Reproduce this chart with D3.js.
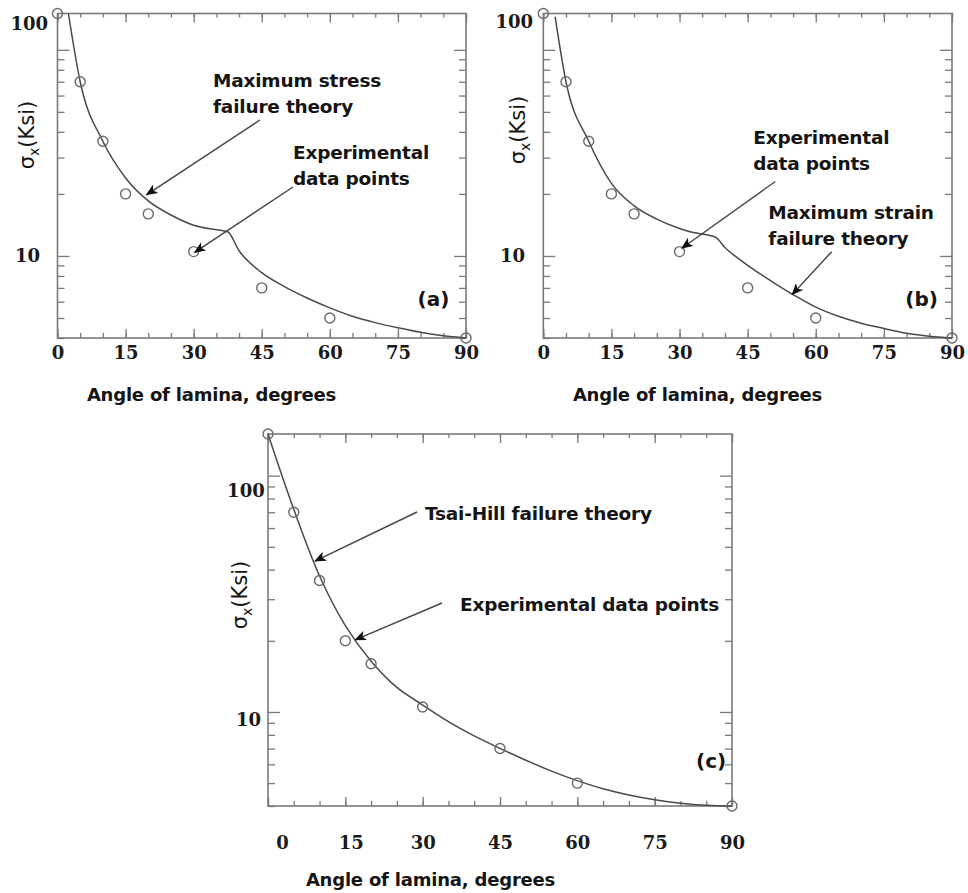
<!DOCTYPE html>
<html>
<head>
<meta charset="utf-8">
<script src="https://cdn.jsdelivr.net/npm/d3@7/dist/d3.min.js"></script>
<style>
  body { margin: 0; background: #fff; }
</style>
</head>
<body>
<svg id="chart" width="968" height="893"></svg>
<script>
// experimental data points (same set appears in all three panels)
var testAngles = [0, 5, 10, 15, 20, 30, 45, 60, 90];
var testStress = [150, 70, 36, 20, 16, 10.5, 7, 5, 4];

// (a) maximum stress failure theory
var maxStressAngles = [2.4, 5, 10, 15, 20, 25, 30, 35, 37.5, 40, 45, 50, 55, 60, 65, 70, 75, 80, 85, 90];
var maxStressValues = [150, 70, 36, 23.9, 18.5, 15.8, 14.1, 13.4, 13.1, 10.6, 8.3, 7.1, 6.25, 5.6, 5.1, 4.75, 4.48, 4.26, 4.1, 4.0];

// (b) maximum strain failure theory
var maxStrainAngles = [2.6, 5, 10, 15, 20, 25, 30, 33, 36.5, 38, 40, 43, 45, 50, 55, 60, 65, 70, 75, 80, 85, 90];
var maxStrainValues = [145, 70, 36, 22.5, 17.5, 15.1, 13.6, 13.0, 12.6, 12.3, 11.0, 9.7, 9.0, 7.6, 6.5, 5.65, 5.1, 4.72, 4.45, 4.22, 4.08, 4.0];

// (c) Tsai-Hill failure theory
var tsaiHillAngles = [0, 5, 10, 15, 20, 25, 30, 35, 40, 45, 50, 55, 60, 65, 70, 75, 80, 85, 90];
var tsaiHillValues = [150, 72, 37.6, 23.2, 16.4, 12.7, 10.7, 9.1, 7.92, 7.01, 6.25, 5.62, 5.12, 4.73, 4.45, 4.25, 4.11, 4.03, 4.0];

// axis ticks and labels
var xLabelTicks = [0, 15, 30, 45, 60, 75, 90];
var yLabelTicks = [10, 100];
var xTitle = "Angle of lamina, degrees";

var svg = d3.select("#chart");

// arrow head
svg.append("defs")
  .append("marker")
  .attr("id", "head")
  .attr("viewBox", "0 0 12 10")
  .attr("refX", 11)
  .attr("refY", 5)
  .attr("markerWidth", 12)
  .attr("markerHeight", 10)
  .attr("markerUnits", "userSpaceOnUse")
  .attr("orient", "auto")
  .append("path")
  .attr("d", "M0,0 L12,5 L0,10 L3,5 Z")
  .attr("fill", "#111");

// panel layout; text offsets are relative to the panel's top-left corner
var panels = [
  {
    left: 57.5, right: 466, top: 13.5, bottom: 338,
    angles: maxStressAngles, values: maxStressValues, curve: d3.curveMonotoneX,
    tag: "(a)", tagPos: [360, 292.5],
    titlePos: [154, 387.5], yTitlePos: [-30.5, 121.5],
    xPadding: 8,
    yLabelOffset: { 100: [-9.5, -26.3], 10: [-17.5, 0] },
    xLabelShift: {},
    notes: [
      { lines: ["Maximum stress", "failure theory"], pos: [155.5, 73.5], tail: [202.5, 106.5], tip: [19.6, 19.8] },
      { lines: ["Experimental", "data points"], pos: [235.5, 145.5], tail: [235.5, 173.5], tip: [30.2, 10.4] }
    ]
  },
  {
    left: 543.3, right: 952, top: 13.5, bottom: 338,
    angles: maxStrainAngles, values: maxStrainValues, curve: d3.curveMonotoneX,
    tag: "(b)", tagPos: [362, 292.5],
    titlePos: [154.2, 387.5], yTitlePos: [-26, 116.5],
    xPadding: 8,
    yLabelOffset: { 100: [-10.3, -28.3], 10: [-18.3, 0] },
    xLabelShift: {},
    notes: [
      { lines: ["Experimental", "data points"], pos: [210, 130.5], tail: [232, 168], tip: [30.5, 10.9] },
      { lines: ["Maximum strain", "failure theory"], pos: [225, 205.5], tail: [288.4, 238.2], tip: [54.8, 6.5] }
    ]
  },
  {
    left: 268, right: 732, top: 434, bottom: 806,
    angles: tsaiHillAngles, values: tsaiHillValues, curve: d3.curveCatmullRom.alpha(0.5),
    tag: "(c)", tagPos: [428, 334],
    titlePos: [162.5, 452], yTitlePos: [-28, 161],
    xPadding: 30,
    yLabelOffset: { 100: [-3.3, 15], 10: [-7, 8] },
    xLabelShift: { 0: 14, 15: 5.5 },
    notes: [
      { lines: ["Tsai-Hill failure theory"], pos: [157, 86], tail: [149, 78], tip: [9.1, 43.5] },
      { lines: ["Experimental data points"], pos: [192, 177], tail: [174, 169], tip: [16.9, 20.2] }
    ]
  }
];

panels.forEach(drawPanel);

function styleTicks(g) {
  g.select(".domain").remove();
  g.selectAll(".tick line").attr("stroke", "#7a7a7a").attr("stroke-width", 1.3);
}

function drawPanel(p) {
  var x = d3.scaleLinear().domain([0, 90]).range([p.left, p.right]);
  var y = d3.scaleLog().domain([4, 150]).range([p.bottom, p.top]);
  var minorX = d3.range(0, 91, 5);
  var minorY = y.ticks().filter(function (v) { return v !== 10 && v !== 100; });

  var g = svg.append("g");

  // bottom axis: minor ticks, then major ticks with labels
  g.append("g")
    .attr("transform", "translate(0," + p.bottom + ")")
    .call(d3.axisBottom(x).tickValues(minorX).tickSize(-5).tickFormat(""))
    .call(styleTicks);
  var bottomAxis = g.append("g")
    .attr("transform", "translate(0," + p.bottom + ")")
    .call(d3.axisBottom(x).tickValues(xLabelTicks).tickSize(-9).tickPadding(p.xPadding).tickFormat(d3.format("d")))
    .call(styleTicks);
  bottomAxis.selectAll("text")
    .attr("dx", function (d) { return p.xLabelShift[d] || 0; })
    .style("font-family", "'DejaVu Serif', serif")
    .style("font-weight", "bold")
    .style("font-size", "18px")
    .attr("fill", "#1a1a1a");

  // top axis
  g.append("g")
    .attr("transform", "translate(0," + p.top + ")")
    .call(d3.axisTop(x).tickValues(minorX).tickSize(-4).tickFormat(""))
    .call(styleTicks);
  g.append("g")
    .attr("transform", "translate(0," + p.top + ")")
    .call(d3.axisTop(x).tickValues(xLabelTicks).tickSize(-9).tickFormat(""))
    .call(styleTicks);

  // left and right axes (log)
  [[d3.axisLeft, p.left], [d3.axisRight, p.right]].forEach(function (a) {
    g.append("g")
      .attr("transform", "translate(" + a[1] + ",0)")
      .call(a[0](y).tickValues(minorY).tickSize(-7).tickFormat(""))
      .call(styleTicks);
    g.append("g")
      .attr("transform", "translate(" + a[1] + ",0)")
      .call(a[0](y).tickValues(yLabelTicks).tickSize(-12).tickFormat(""))
      .call(styleTicks);
  });

  // y tick labels
  g.selectAll(".ylab")
    .data(yLabelTicks)
    .enter()
    .append("text")
    .attr("x", function (d) { return p.left + p.yLabelOffset[d][0]; })
    .attr("y", function (d) { return y(d) + p.yLabelOffset[d][1]; })
    .attr("dy", "0.36em")
    .attr("text-anchor", "end")
    .style("font-family", "'DejaVu Serif', serif")
    .style("font-weight", "bold")
    .style("font-size", "18px")
    .attr("fill", "#1a1a1a")
    .text(function (d) { return d; });

  // frame
  g.append("rect")
    .attr("x", p.left)
    .attr("y", p.top)
    .attr("width", p.right - p.left)
    .attr("height", p.bottom - p.top)
    .attr("fill", "none")
    .attr("stroke", "#7a7a7a")
    .attr("stroke-width", 1.6);

  // theory curve
  var curvePts = p.angles.map(function (a, i) { return [a, p.values[i]]; });
  var line = d3.line()
    .x(function (d) { return x(d[0]); })
    .y(function (d) { return y(d[1]); })
    .curve(p.curve);
  g.append("path")
    .datum(curvePts)
    .attr("d", line)
    .attr("fill", "none")
    .attr("stroke", "#4a4a4a")
    .attr("stroke-width", 1.5);

  // experimental points
  g.selectAll(".pt")
    .data(testAngles.map(function (a, i) { return [a, testStress[i]]; }))
    .enter()
    .append("circle")
    .attr("cx", function (d) { return x(d[0]); })
    .attr("cy", function (d) { return y(d[1]); })
    .attr("r", 5)
    .attr("fill", "none")
    .attr("stroke", "#6a6a6a")
    .attr("stroke-width", 1.4);

  // annotations with arrows
  p.notes.forEach(function (n) {
    var t = g.append("text")
      .attr("x", p.left + n.pos[0])
      .attr("y", p.top + n.pos[1])
      .style("font-family", "'DejaVu Sans', sans-serif")
      .style("font-weight", "bold")
      .style("font-size", "18.5px")
      .style("letter-spacing", "-0.2px")
      .attr("fill", "#151515");
    n.lines.forEach(function (s, i) {
      t.append("tspan")
        .attr("x", p.left + n.pos[0])
        .attr("dy", i === 0 ? 0 : 26)
        .text(s);
    });
    g.append("line")
      .attr("x1", p.left + n.tail[0])
      .attr("y1", p.top + n.tail[1])
      .attr("x2", x(n.tip[0]))
      .attr("y2", y(n.tip[1]))
      .attr("stroke", "#444")
      .attr("stroke-width", 1.4)
      .attr("marker-end", "url(#head)");
  });

  // panel tag
  g.append("text")
    .attr("x", p.left + p.tagPos[0])
    .attr("y", p.top + p.tagPos[1])
    .style("font-family", "'DejaVu Sans', sans-serif")
    .style("font-weight", "bold")
    .style("font-size", "20px")
    .attr("fill", "#151515")
    .text(p.tag);

  // x axis title
  g.append("text")
    .attr("x", p.left + p.titlePos[0])
    .attr("y", p.top + p.titlePos[1])
    .attr("text-anchor", "middle")
    .style("font-family", "'DejaVu Sans', sans-serif")
    .style("font-weight", "bold")
    .style("font-size", "18px")
    .style("letter-spacing", "-0.2px")
    .attr("fill", "#151515")
    .text(xTitle);

  // y axis title: sigma_x (Ksi)
  var yt = g.append("text")
    .attr("transform", "translate(" + (p.left + p.yTitlePos[0]) + "," + (p.top + p.yTitlePos[1]) + ") rotate(-90)")
    .attr("text-anchor", "middle")
    .attr("dy", "0.35em")
    .style("font-family", "'DejaVu Sans', sans-serif")
    .style("font-size", "21px")
    .attr("fill", "#151515");
  yt.append("tspan").text("σ");
  yt.append("tspan").attr("dy", 5).style("font-size", "14px").text("x");
  yt.append("tspan").attr("dy", -5).text("(Ksi)");
}
</script>
</body>
</html>
